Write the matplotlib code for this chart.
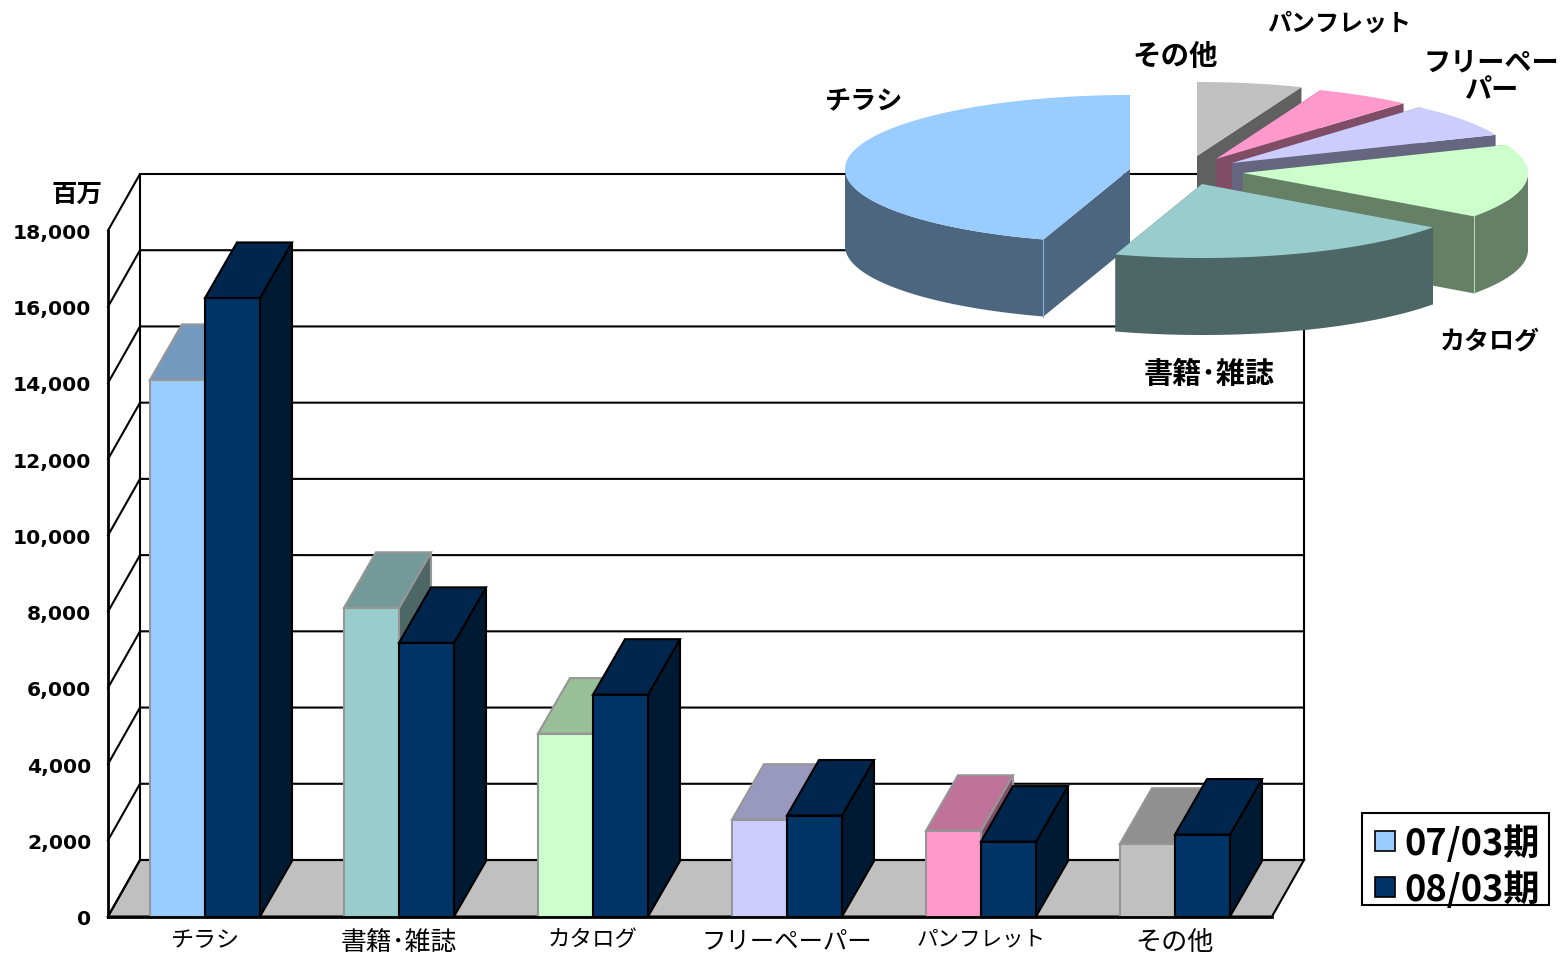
#!/usr/bin/env python

# 3D look bar chart by category, with an exploded pie of the 08/03 shares on top

import numpy as np
from matplotlib import pyplot as plt
from matplotlib.lines import Line2D
from matplotlib.patches import Polygon, Rectangle
from matplotlib.ticker import FuncFormatter

JP = ['Noto Sans CJK JP', 'DejaVu Sans']
plt.rcParams['font.family'] = JP

categories = ["チラシ", "書籍･雑誌", "カタログ", "フリーペーパー", "パンフレット", "その他"]
category_sizes = [16.6, 18.6, 16.2, 17.6, 15.5, 18.8]
series_07 = [14080, 8100, 4800, 2540, 2250, 1910]
series_08 = [16230, 7180, 5820, 2650, 1965, 2150]
series_names = ["07/03期", "08/03期"]
y_ticks = list(range(0, 18001, 2000))

colors_07 = ["#99CCFF", "#99CCCC", "#CCFFCC", "#CCCCFF", "#FF99CC", "#C0C0C0"]
color_08 = "#003366"

# exploded wedge centres in figure pixels, same order as categories
pie_centers = [(1130, 170), (1202, 185), (1243, 174), (1232, 164), (1216, 160), (1197, 157)]
pie_labels = ["チラシ", "書籍･雑誌", "カタログ", "フリーペー\nパー", "パンフレット", "その他"]
pie_label_pos = [(864, 102), (1209, 374), (1490, 342), (1491, 76), (1339, 24), (1175, 57)]
pie_label_sizes = [18.8, 21, 18, 19.5, 17.3, 20.5]
pie_rx, pie_ry, pie_depth = 285, 74, 77


def shade(hex_color, k):
    r, g, b = plt.matplotlib.colors.to_rgb(hex_color)
    return (r * k, g * k, b * k)


fig = plt.figure(figsize=(15.64, 9.54), dpi=100)
W, H = 1564, 954
ax = fig.add_axes([108 / W, 1 - 917.5 / H, 1164 / W, 686 / H])
ax.set_xlim(0, len(categories))
ax.set_ylim(0, 18000)

# depth of the box, in data units
dx = 32 / (1164 / len(categories))
dy = 56.5 / (686 / 18000)
dy_bar = 55.5 / (686 / 18000)

ax.add_patch(Polygon([(0, 0), (6, 0), (6 + dx, dy), (dx, dy)], fc="#C0C0C0", ec="black", lw=1.5,
                     zorder=1, clip_on=False))
for t in y_ticks:
    ax.plot([0, dx, 6 + dx], [t, t + dy, t + dy], color="black", lw=1.5, zorder=1.5, clip_on=False)
ax.plot([dx, dx], [dy, 18000 + dy], color="black", lw=1.5, zorder=1.5, clip_on=False)
ax.plot([6 + dx, 6 + dx], [dy, 18000 + dy], color="black", lw=1.5, zorder=1.5, clip_on=False)


def bar_3d(x, val, width, color, edge, z):
    ax.bar(x, val, width, color=color, edgecolor=edge, lw=1.5, align="edge", zorder=z + 0.2)
    top = [(x, val), (x + width, val), (x + width + dx, val + dy_bar), (x + dx, val + dy_bar)]
    side = [(x + width, 0), (x + width + dx, dy_bar), (x + width + dx, val + dy_bar), (x + width, val)]
    ax.add_patch(Polygon(side, fc=shade(color, 0.5), ec=edge, lw=1.5, zorder=z, clip_on=False))
    ax.add_patch(Polygon(top, fc=shade(color, 0.75), ec=edge, lw=1.5, zorder=z + 0.1, clip_on=False))


bar_w = 55 / (1164 / len(categories))
for i in range(len(categories)):
    bar_3d(i + 0.5 - bar_w, series_07[i], bar_w, colors_07[i], "#969696", 2 + i)
    bar_3d(i + 0.5, series_08[i], bar_w, color_08, "black", 2.5 + i)

for s in ["top", "right"]:
    ax.spines[s].set_visible(False)
for s in ["left", "bottom"]:
    ax.spines[s].set_linewidth(2)
    ax.spines[s].set_zorder(20)
ax.set_facecolor("none")
ax.set_yticks(y_ticks)
ax.yaxis.set_major_formatter(FuncFormatter(lambda v, p: f"{int(v):,}"))
ax.set_xticks([i + 0.5 for i in range(len(categories))])
ax.set_xticklabels(categories)
ax.tick_params(axis="both", length=0)
ax.tick_params(axis="x", pad=8)
ax.tick_params(axis="y", pad=12)
for lab, size in zip(ax.get_xticklabels(), category_sizes):
    lab.set_fontsize(size)
for lab in ax.get_yticklabels():
    lab.set_fontfamily("DejaVu Sans")
    lab.set_fontweight("bold")
    lab.set_fontsize(14.6)

# frame is drawn separately, the text needs to sit a bit lower than the legend box allows
handles = [Line2D([], [], ls="none", marker="s", ms=14.4, mfc=c, mec="black", mew=1.2)
           for c in (colors_07[0], color_08)]
leg = ax.legend(handles=handles, labels=series_names, loc="lower left",
                prop={"family": JP, "size": 26, "weight": "bold"},
                bbox_to_anchor=(1362 / W, 1 - 913 / H, 187 / W, 92 / H), bbox_transform=fig.transFigure,
                mode="expand", frameon=False, numpoints=1,
                handlelength=1.05, handletextpad=0.0, labelspacing=0.23, borderpad=0.11, borderaxespad=0)

# pie is drawn in figure pixels, on its own overlay
pie = fig.add_axes([0, 0, 1, 1])
pie.set_xlim(0, W)
pie.set_ylim(H, 0)
pie.axis("off")
pie.patch.set_alpha(0)
pie.text(77, 194, "百万", ha="center", va="center", fontsize=18.4, fontweight="bold")
pie.add_patch(Rectangle((1362, 814), 187, 92, fc="none", ec="black", lw=1.5))


def ell(c, deg):
    a = np.radians(deg)
    return np.column_stack([c[0] + pie_rx * np.cos(a), c[1] - pie_ry * np.sin(a)])


total = sum(series_08)
bounds = [90.0]
for v in series_08:
    bounds.append(bounds[-1] + 360 * v / total)


def wedge(i):
    c = pie_centers[i]
    a0, a1 = bounds[i], bounds[i + 1]
    col = colors_07[i]
    dark = shade(col, 0.5)
    drop = np.array([0, pie_depth])
    for a in (a0, a1):
        p = ell(c, np.array([a]))[0]
        pie.add_patch(Polygon([c, p, p + drop, np.array(c) + drop], fc=dark, ec="none"))
    # rim, only the front half of the ellipse shows
    lo, hi = max(a0, 180), min(a1, 360)
    if hi > lo:
        arc = ell(c, np.linspace(lo, hi, 80))
        pie.add_patch(Polygon(np.vstack([arc, arc[::-1] + drop]), fc=dark, ec="none"))
    arc = ell(c, np.linspace(a0, a1, 120))
    pie.add_patch(Polygon(np.vstack([[c], arc]), fc=col, ec="none"))
    # thin light line where the cut face meets the rim
    if i in (0, 2):
        a = a1 if i == 0 else a0
        p = ell(c, np.array([a]))[0]
        pie.plot([p[0], p[0]], [p[1], p[1] + pie_depth], color=shade(col, 0.85), lw=0.8)


for i in [5, 4, 3, 2, 0, 1]:
    wedge(i)

for lab, (x, y), size in zip(pie_labels, pie_label_pos, pie_label_sizes):
    pie.text(x, y, lab, ha="center", va="center", fontsize=size, fontweight="bold", linespacing=1.0)

fig.savefig("out.png", dpi=100)
